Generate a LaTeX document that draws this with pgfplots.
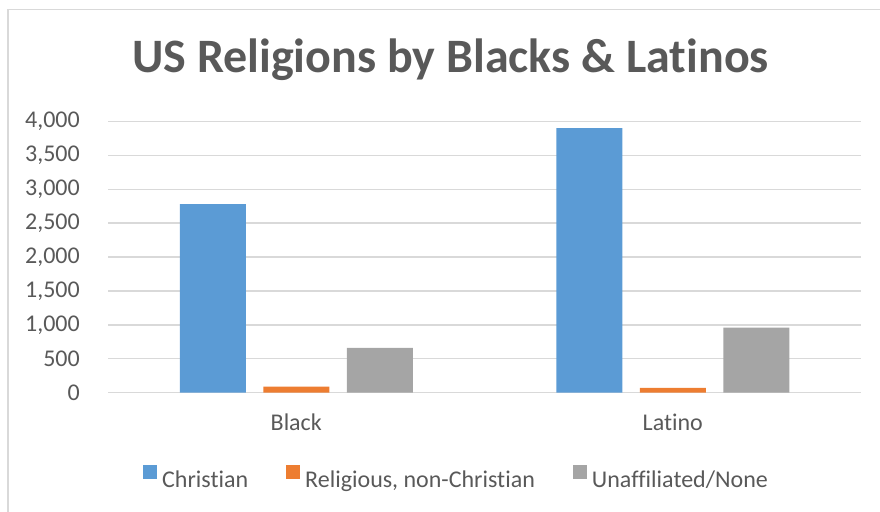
\documentclass[border=0pt]{standalone}
\usepackage{fontspec}
\setmainfont{Carlito}[Ligatures={TeX,NoCommon}]
\usepackage{pgfplots}
\pgfplotsset{compat=1.18}

\definecolor{xlblue}{HTML}{5B9BD5}
\definecolor{xlorange}{HTML}{ED7D31}
\definecolor{xlgray}{HTML}{A5A5A5}
\definecolor{txtgray}{HTML}{595959}
\definecolor{gridgray}{HTML}{D9D9D9}

\begin{document}
\begin{tikzpicture}[x=1pt,y=1pt]
\useasboundingbox (0,0) rectangle (880,-511);
% chart area border (runs off the right and bottom edge as in the screenshot)
\draw[gridgray, line width=1.2pt] (8,-9.5) rectangle (900,-540);

\begin{axis}[
  at={(108pt,-392.7pt)}, anchor=south west,
  scale only axis,
  width=753pt, height=271.4pt,
  xmin=-0.5, xmax=1.5,
  ymin=0, ymax=4000,
  ytick={0,500,...,4000},
  xtick={0,1},
  xticklabels={Black,Latino},
  major tick length=0pt,
  axis line style={draw=none},
  ymajorgrids,
  grid style={gridgray, line width=1.3pt},
  ybar, bar width=66pt,
  ticklabel style={font=\fontsize{24}{28}\selectfont, text=txtgray},
  /pgf/number format/assume math mode=true,
  /pgf/number format/1000 sep={,},
  yticklabel style={inner sep=0pt, anchor=east, xshift=-28pt},
  xticklabel style={inner sep=0pt, anchor=base, yshift=-37.3pt},
  title={US Religions by Blacks \& Latinos},
  title style={font=\fontsize{48}{56}\selectfont\bfseries, text=txtgray,
    anchor=base, at={(0.4548,1)}, yshift=43.3pt, inner sep=0pt},
  legend columns=3,
  legend style={draw=none, fill=none, inner sep=0pt,
    at={(0.4615,-0.3106)}, anchor=center,
    column sep=5pt,
    /tikz/every even column/.append style={column sep=38pt},
    nodes={inner sep=0pt, text=txtgray, font=\fontsize{24}{28}\selectfont}},
  legend image code/.code={\fill[#1] (0pt,0pt) rectangle (14pt,14pt);},
]
\addplot[fill=xlblue, draw=none, bar shift=-83.5pt] coordinates {(0,2780) (1,3900)};
\addplot[fill=xlorange, draw=none, bar shift=0pt] coordinates {(0,90) (1,70)};
\addplot[fill=xlgray, draw=none, bar shift=83.5pt] coordinates {(0,660) (1,960)};
\legend{Christian, {Religious, non-Christian}, Unaffiliated/None}
\end{axis}
\end{tikzpicture}
\end{document}
